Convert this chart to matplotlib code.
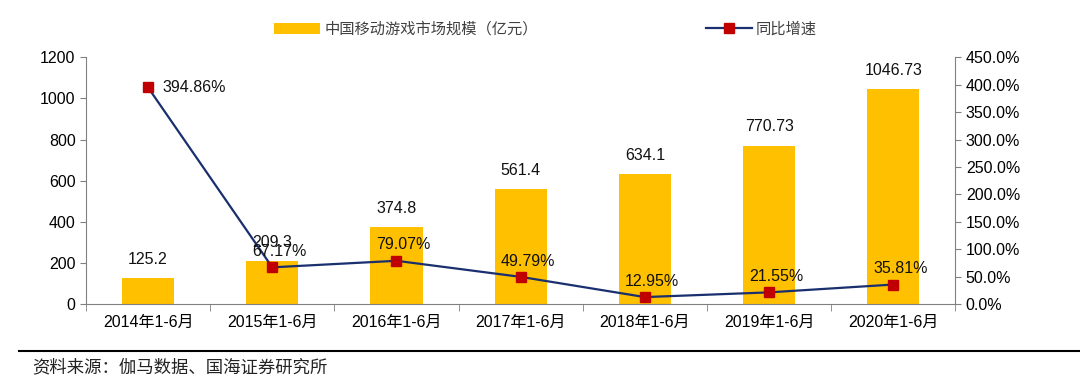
import matplotlib.pyplot as plt
from matplotlib.ticker import FuncFormatter, FixedLocator

plt.rcParams['font.family'] = ['Liberation Sans', 'Noto Sans CJK SC', 'DejaVu Sans']

years = ['2014年1-6月', '2015年1-6月', '2016年1-6月', '2017年1-6月',
         '2018年1-6月', '2019年1-6月', '2020年1-6月']
market = [125.2, 209.3, 374.8, 561.4, 634.1, 770.73, 1046.73]
market_labels = ['125.2', '209.3', '374.8', '561.4', '634.1', '770.73', '1046.73']
growth = [394.86, 67.17, 79.07, 49.79, 12.95, 21.55, 35.81]

fig = plt.figure(figsize=(10.8, 3.92), dpi=100)
ax = fig.add_axes([0.0796, 0.224, 0.805, 0.63])
ax2 = ax.twinx()

x = list(range(len(years)))
ax.bar(x, market, width=0.42, color='#FFC000', label='中国移动游戏市场规模（亿元）', zorder=2)
for xi, v, s in zip(x, market, market_labels):
    ax.annotate(s, (xi, v), xytext=(0, 8), textcoords='offset points',
                ha='center', va='bottom', fontsize=11.5, color='#111111')

ax.set_xlim(-0.5, len(years) - 0.5)
ax.set_ylim(0, 1200)
ax.set_yticks(range(0, 1201, 200))
ax.set_xticks(x)
ax.set_xticklabels(years, fontsize=11.5)
ax.xaxis.set_minor_locator(FixedLocator([i + 0.5 for i in range(-1, len(years))]))
ax.tick_params(axis='x', which='major', length=0, pad=8)
ax.tick_params(axis='x', which='minor', length=5, direction='out', color='#808080')
ax.tick_params(axis='y', labelsize=11.5, length=4, color='#808080')

ax2.plot(x, growth, color='#1A2F6E', lw=1.6, marker='s', markersize=7,
         markerfacecolor='#C00000', markeredgecolor='#C00000', label='同比增速', zorder=3)
ax2.set_ylim(0, 450)
ax2.set_yticks(range(0, 451, 50))
ax2.yaxis.set_major_formatter(FuncFormatter(lambda v, p: f'{v:.1f}%'))
ax2.tick_params(axis='y', labelsize=11.5, length=4, color='#808080')

for xi, g in zip(x, growth):
    if xi == 0:
        ax2.annotate(f'{g:.2f}%', (xi, g), xytext=(10, 0), textcoords='offset points',
                     ha='left', va='center', fontsize=11.5, color='#111111')
    else:
        ax2.annotate(f'{g:.2f}%', (xi, g), xytext=(5, 6), textcoords='offset points',
                     ha='center', va='bottom', fontsize=11.5, color='#111111')

for a in (ax, ax2):
    a.spines['top'].set_visible(False)
    for side in ('left', 'right', 'bottom'):
        a.spines[side].set_color('#808080')
ax.spines['right'].set_visible(False)
ax2.spines['left'].set_visible(False)
ax2.spines['bottom'].set_visible(False)

h1, l1 = ax.get_legend_handles_labels()
h2, l2 = ax2.get_legend_handles_labels()
fig.legend(h1 + h2, l1 + l2, loc='center', bbox_to_anchor=(0.505, 0.925), ncol=2,
           frameon=False, fontsize=11, columnspacing=11, handlelength=3.0,
           handletextpad=0.3, labelcolor='#404040')

fig.add_artist(plt.Line2D([0.018, 1.0], [0.105, 0.105], color='black', lw=1.5))
fig.text(0.03, 0.062, '资料来源：伽马数据、国海证券研究所', fontsize=12.5,
         family=['Noto Sans CJK SC'], color='#222222', va='center')

fig.savefig('out.png', dpi=100)
